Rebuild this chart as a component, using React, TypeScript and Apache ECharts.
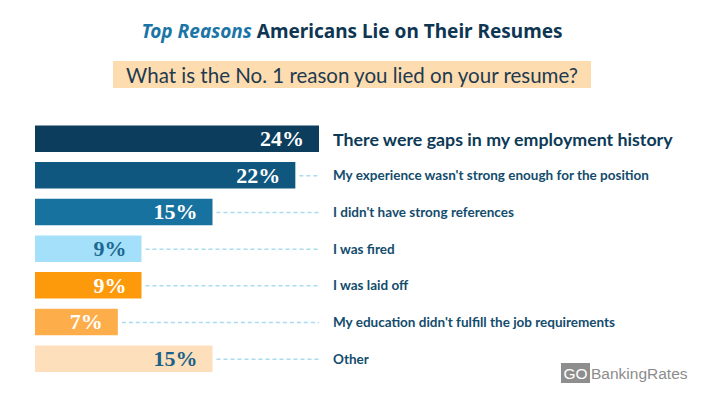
import React, { useEffect, useRef } from "react";
import * as echarts from "echarts";

const reasons = [
  "There were gaps in my employment history",
  "My experience wasn't strong enough for the position",
  "I didn't have strong references",
  "I was fired",
  "I was laid off",
  "My education didn't fulfill the job requirements",
  "Other",
];
const values = [24, 22, 15, 9, 9, 7, 15];
const barColors = ["#0c3d5c", "#105780", "#18729f", "#a4e0fa", "#fd9a0b", "#fdae4a", "#fde0bb"];
const valueLabelColors = ["#ffffff", "#ffffff", "#ffffff", "#1c6891", "#ffffff", "#ffffff", "#1c6188"];
const axisMax = 24;

export default function App() {
  const ref = useRef<HTMLDivElement>(null);
  useEffect(() => {
    document.body.style.margin = "0";
    const chart = echarts.init(ref.current!, null, { renderer: "svg" });
    const sans = "Lato";
    const serif = "'Times New Roman', 'Liberation Serif', Times, serif";
    chart.setOption({
      animation: false,
      backgroundColor: "#ffffff",
      title: {
        left: "center",
        top: 16,
        text: "{a|Top Reasons} {b|Americans Lie on Their Resumes}",
        textStyle: {
          rich: {
            a: { fontFamily: "Noto Sans", fontSize: 19, fontWeight: 700, fontStyle: "italic", color: "#1a75a6" },
            b: { fontFamily: "Noto Sans", fontSize: 19, fontWeight: 700, color: "#0e3652" },
          },
        },
      },
      graphic: [
        { type: "rect", shape: { x: 113, y: 61, width: 478, height: 27 }, style: { fill: "#fddcb0" } },
        {
          type: "text",
          x: 352,
          y: 75,
          style: {
            text: "What is the No. 1 reason you lied on your resume?",
            fontFamily: sans,
            fontSize: 20.5,
            fill: "#1e3a4f",
            align: "center",
            verticalAlign: "middle",
          },
        },
        { type: "rect", shape: { x: 561, y: 363, width: 29, height: 20 }, style: { fill: "#8e8e8e" } },
        {
          type: "text",
          x: 575.5,
          y: 373.5,
          style: { text: "GO", fontFamily: "Liberation Sans", fontSize: 15.5, fill: "#ffffff", align: "center", verticalAlign: "middle" },
        },
        {
          type: "text",
          x: 591,
          y: 373.5,
          style: { text: "BankingRates", fontFamily: "Liberation Sans", fontSize: 15.5, fill: "#8c8c8c", align: "left", verticalAlign: "middle" },
        },
      ],
      grid: { left: 35, width: 284, top: 120.3, height: 256.7 },
      xAxis: { type: "value", min: 0, max: axisMax, show: false },
      yAxis: {
        type: "category",
        data: reasons,
        inverse: true,
        position: "right",
        axisLine: { show: false },
        axisTick: { show: false },
        splitLine: { show: false },
        axisLabel: {
          margin: 14,
          align: "left",
          formatter: (v: string, i: number) => (i === 0 ? `{big|${v}}` : `{norm|${v}}`),
          rich: {
            big: { fontFamily: sans, fontSize: 17.8, fontWeight: 700, color: "#0d3a56" },
            norm: { fontFamily: sans, fontSize: 13.5, fontWeight: 700, color: "#134c6d" },
          },
        },
      },
      series: [
        {
          type: "bar",
          barWidth: 26.5,
          data: values.map((v, i) => ({
            value: v,
            itemStyle: { color: barColors[i] },
            label: { color: valueLabelColors[i] },
          })),
          label: {
            show: true,
            position: "insideRight",
            distance: 15,
            formatter: "{c}%",
            fontFamily: serif,
            fontWeight: "bold",
            fontSize: 22,
          },
          z: 3,
        },
        {
          type: "custom",
          data: values.map((v, i) => [v, i]),
          renderItem: (params: any, api: any) => {
            const v = api.value(0);
            const idx = api.value(1);
            if (v >= axisMax) return null;
            const s = api.coord([v, idx]);
            const e = api.coord([axisMax, idx]);
            return {
              type: "line",
              shape: { x1: s[0] + 4, y1: s[1] + 0.5, x2: e[0], y2: e[1] + 0.5 },
              style: { stroke: "#a8dcef", lineWidth: 1.5, lineDash: [4, 3] },
            };
          },
          z: 2,
        },
      ],
    });
    return () => chart.dispose();
  }, []);
  return <div ref={ref} style={{ width: 704, height: 396 }} />;
}
